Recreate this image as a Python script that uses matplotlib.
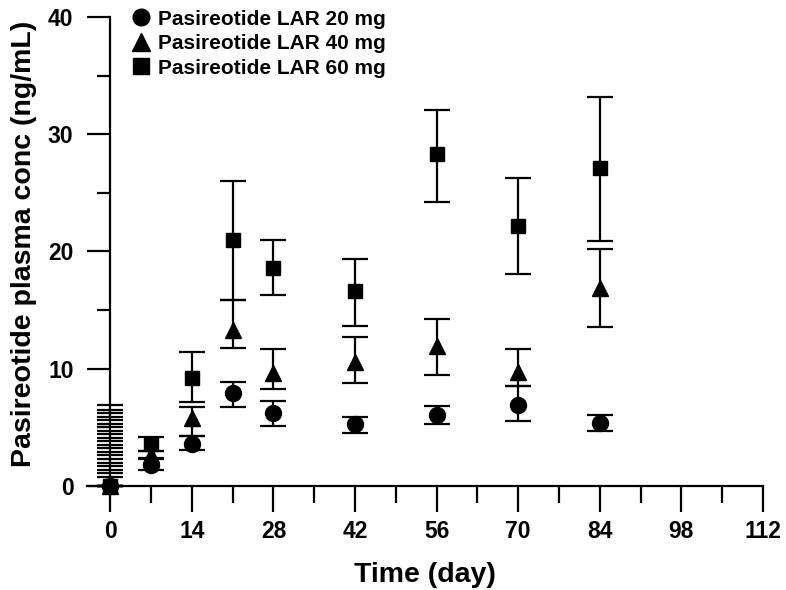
import matplotlib
matplotlib.use("Agg")
import matplotlib.pyplot as plt
from matplotlib.lines import Line2D
from matplotlib.ticker import MultipleLocator
import numpy as np

plt.rcParams['font.family'] = ['Liberation Sans', 'DejaVu Sans']
plt.rcParams['font.weight'] = 'bold'

days = [0, 7, 14, 21, 28, 42, 56, 70, 84]

c20 = [0, 1.8, 3.6, 7.9, 6.2, 5.3, 6.05, 6.9, 5.4]
c20_lo = [0, 1.36, 3.07, 6.76, 5.14, 4.55, 5.3, 5.57, 4.7]
c20_hi = [0, 2.36, 4.26, 8.9, 7.25, 5.9, 6.8, 8.5, 6.05]

c40 = [0, 2.6, 5.8, 13.3, 9.6, 10.6, 11.9, 9.7, 16.85]
c40_lo = [0, 2.3, 4.3, 11.8, 8.3, 8.75, 9.46, 8.5, 13.6]
c40_hi = [0, 3.0, 6.7, 15.86, 11.7, 12.7, 14.2, 11.7, 20.2]

c60 = [0, 3.6, 9.2, 21.0, 18.6, 16.6, 28.3, 22.2, 27.1]
c60_lo = [0, 3.0, 7.2, 15.86, 16.3, 13.67, 24.2, 18.1, 20.9]
c60_hi = [0, 4.15, 11.4, 26.0, 21.0, 19.35, 32.1, 26.3, 33.2]

# stack of cap lines drawn at day 0
day0_caps = [0.8, 1.1, 1.4, 1.7, 2.0, 2.3, 2.6, 2.9, 3.2, 3.5, 3.8,
             4.1, 4.4, 4.7, 5.0, 5.3, 5.6, 5.9, 6.2, 6.5, 6.9]

labels = ['Pasireotide LAR 20 mg', 'Pasireotide LAR 40 mg', 'Pasireotide LAR 60 mg']
xticks = [0, 14, 28, 42, 56, 70, 84, 98, 112]
yticks = [0, 10, 20, 30, 40]

fig = plt.figure(figsize=(7.86, 5.9), dpi=100)
ax = fig.add_axes([0.1107, 0.1763, 0.860, 0.7949])

series = [
    (c60, c60_lo, c60_hi, 's', 10.5),
    (c40, c40_lo, c40_hi, '^', 12),
    (c20, c20_lo, c20_hi, 'o', 11.5),
]
for i, (m, lo, hi, mk, ms) in enumerate(series):
    m = np.array(m); lo = np.array(lo); hi = np.array(hi)
    yerr = np.vstack([m - lo, hi - m])
    eb = ax.errorbar(days, m, yerr=yerr, fmt=mk, color='black', ms=ms,
                     elinewidth=1.6, capsize=9.3, capthick=1.6,
                     zorder=3 + i, clip_on=False)
    for art in eb.lines[1] + eb.lines[2]:
        art.set_clip_on(False)
    eb.lines[0].set_clip_on(False)

ax.plot([0] * len(day0_caps), day0_caps, linestyle='none', marker='_',
        ms=18.7, mew=1.6, color='black', zorder=2, clip_on=False)

ax.set_xlim(-4, 112)
ax.set_ylim(0, 40)
ax.spines['top'].set_visible(False)
ax.spines['right'].set_visible(False)
ax.spines['left'].set_position(('data', 0))
ax.spines['bottom'].set_position(('data', 0))
for s in ['left', 'bottom']:
    ax.spines[s].set_linewidth(1.6)

ax.set_xticks(xticks)
ax.set_xticklabels([str(t) for t in xticks])
ax.xaxis.set_minor_locator(MultipleLocator(7))
ax.set_yticks(yticks)
ax.set_yticklabels([str(t) for t in yticks])
ax.yaxis.set_minor_locator(MultipleLocator(5))
ax.tick_params(axis='both', which='major', direction='out', width=1.6, labelsize=16.5)
ax.tick_params(axis='x', which='major', length=18.5, pad=6)
ax.tick_params(axis='x', which='minor', length=12, width=1.6)
ax.tick_params(axis='y', which='major', length=16.5, pad=10)
ax.tick_params(axis='y', which='minor', length=9.5, width=1.6)
for lab in ax.get_xticklabels() + ax.get_yticklabels():
    lab.set_fontweight('bold')

ax.set_xlabel('Time (day)', fontsize=20.5, fontweight='bold', labelpad=14)
ax.set_ylabel('Pasireotide plasma conc (ng/mL)', fontsize=20.5, fontweight='bold')
ax.yaxis.set_label_coords(-0.074, 0.516)

handles = [
    Line2D([], [], linestyle='none', marker='o', color='black', ms=12),
    Line2D([], [], linestyle='none', marker='^', color='black', ms=12.5),
    Line2D([], [], linestyle='none', marker='s', color='black', ms=11),
]
leg = fig.legend(handles, labels, loc='upper left', bbox_to_anchor=(0.155, 0.998),
                 frameon=False, fontsize=15, handlelength=1.0, handletextpad=0.35,
                 labelspacing=0.27, borderaxespad=0)
for t in leg.get_texts():
    t.set_fontweight('bold')

fig.savefig('out.png', dpi=100)
